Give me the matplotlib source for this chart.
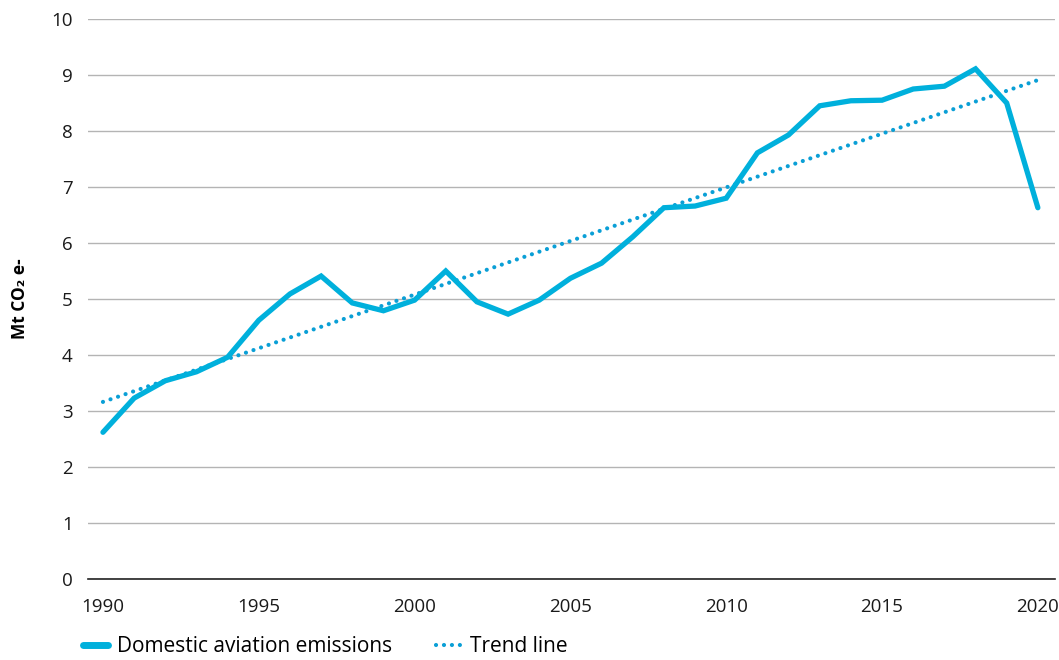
import numpy as np
import matplotlib.pyplot as plt
from matplotlib.lines import Line2D

years = np.arange(1990, 2021)
emissions = [2.62, 3.23, 3.54, 3.70, 3.96, 4.62, 5.09, 5.41, 4.93, 4.79,
             4.98, 5.50, 4.95, 4.73, 4.98, 5.37, 5.64, 6.11, 6.63, 6.66,
             6.80, 7.61, 7.93, 8.45, 8.54, 8.55, 8.75, 8.80, 9.11, 8.50,
             6.63]
x_ticks = [1990, 1995, 2000, 2005, 2010, 2015, 2020]
y_ticks = list(range(0, 11))

main_color = '#00b0dc'
trend_color = '#0a9fd6'

plt.rcParams['font.family'] = ['Open Sans', 'DejaVu Sans']

fig = plt.figure(figsize=(10.59, 6.6), dpi=100)
ax = fig.add_axes([88 / 1059, 1 - 579 / 660, (1055 - 88) / 1059, (579 - 19) / 660])

# linear trend fitted to the series
coef = np.polyfit(years, emissions, 1)
trend = np.polyval(coef, years)

ax.plot(years, trend, color=trend_color, lw=3.0, linestyle=(0, (0.01, 1.9)),
        dash_capstyle='round', zorder=3)
ax.plot(years, emissions, color=main_color, lw=3.8, solid_joinstyle='miter',
        solid_capstyle='round', zorder=4)

ax.set_xlim(1989.52, 2020.55)
ax.set_ylim(0, 10)
ax.set_yticks(y_ticks)
ax.set_xticks(x_ticks)
ax.grid(axis='y', color='#b4b4b4', lw=1.0)
ax.set_axisbelow(True)
for s in ['top', 'right', 'left']:
    ax.spines[s].set_visible(False)
ax.spines['bottom'].set_color('#222222')
ax.spines['bottom'].set_linewidth(1.2)
ax.tick_params(axis='both', length=0, labelsize=13.5, colors='#1a1a1a')
ax.tick_params(axis='y', pad=11)
ax.tick_params(axis='x', pad=14)
ax.set_ylabel('Mt CO₂ e-', fontsize=12.5, fontweight='bold', labelpad=16)

handles = [
    Line2D([], [], color=main_color, lw=5, solid_capstyle='round'),
    Line2D([], [], color=trend_color, lw=3.0, linestyle=(0, (0.01, 1.9)),
           dash_capstyle='round'),
]
fig.legend(handles, ['Domestic aviation emissions', 'Trend line'],
           loc='center left', bbox_to_anchor=(64 / 1059, 1 - 647 / 660), ncol=2,
           frameon=False, fontsize=15, handlelength=1.2, handletextpad=0.45,
           columnspacing=2.1)

fig.savefig('out.png', dpi=100)
